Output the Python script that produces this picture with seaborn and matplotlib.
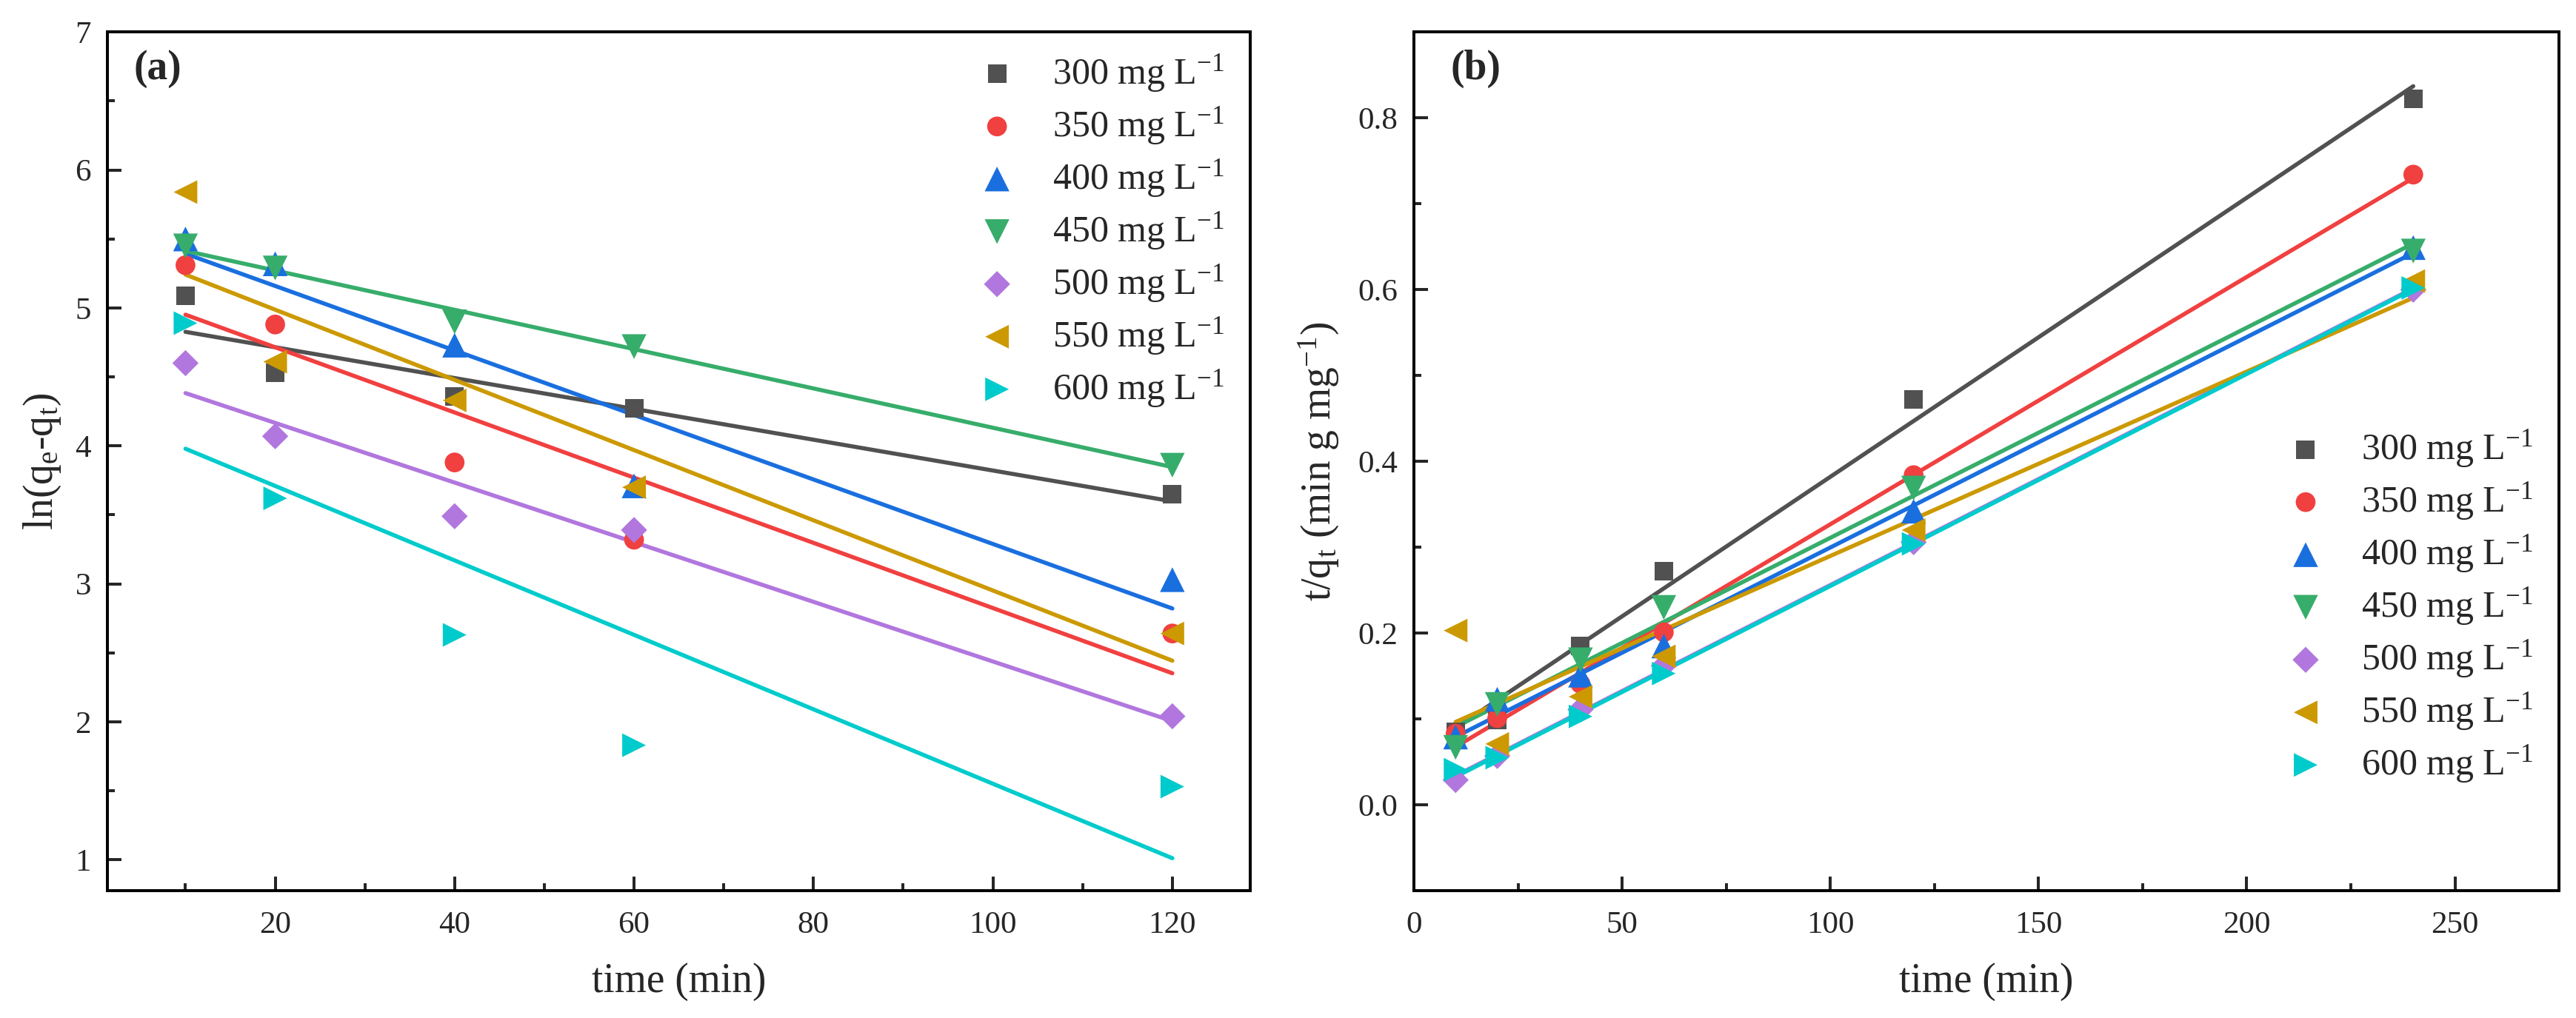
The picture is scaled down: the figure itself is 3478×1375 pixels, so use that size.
import matplotlib
matplotlib.use('Agg')
import matplotlib.pyplot as plt
import seaborn as sns
import numpy as np
from matplotlib.ticker import MultipleLocator

sns.set_style('ticks')
plt.rcParams['font.family'] = ['Liberation Serif', 'DejaVu Serif']
plt.rcParams['mathtext.fontset'] = 'custom'
plt.rcParams['mathtext.rm'] = 'Liberation Serif'
plt.rcParams['mathtext.it'] = 'Liberation Serif:italic'
plt.rcParams['mathtext.bf'] = 'Liberation Serif:bold'

# concentrations, colours and markers (Origin-like palette)
conc = ['300', '350', '400', '450', '500', '550', '600']
colors = ['#515151', '#F14040', '#1A6FDF', '#37AD6B', '#B177DE', '#CC9900', '#00CBCC']
markers = ['s', 'o', '^', 'v', 'D', '<', '>']
msizes = [9.0, 9.6, 12, 12, 9.0, 11.5, 11.5]

# (a) pseudo-first-order: ln(qe-qt) vs time
t_a = [10, 20, 40, 60, 120]
ln_300 = [5.09, 4.53, 4.36, 4.27, 3.65]
ln_350 = [5.31, 4.88, 3.88, 3.32, 2.64]
ln_400 = [5.50, 5.32, 4.73, 3.71, 3.03]
ln_450 = [5.45, 5.29, 4.90, 4.72, 3.86]
ln_500 = [4.60, 4.07, 3.49, 3.39, 2.04]
ln_550 = [5.84, 4.61, 4.33, 3.70, 2.64]
ln_600 = [4.89, 3.62, 2.63, 1.83, 1.53]
data_a = [ln_300, ln_350, ln_400, ln_450, ln_500, ln_550, ln_600]

# (b) pseudo-second-order: t/qt vs time
t_b = [10, 20, 40, 60, 120, 240]
tq_300 = [0.085, 0.099, 0.185, 0.272, 0.472, 0.822]
tq_350 = [0.083, 0.101, 0.141, 0.201, 0.384, 0.734]
tq_400 = [0.079, 0.123, 0.151, 0.185, 0.342, 0.649]
tq_450 = [0.067, 0.117, 0.169, 0.230, 0.369, 0.645]
tq_500 = [0.029, 0.057, 0.111, 0.162, 0.306, 0.600]
tq_550 = [0.203, 0.071, 0.126, 0.173, 0.320, 0.610]
tq_600 = [0.041, 0.055, 0.103, 0.153, 0.304, 0.602]
data_b = [tq_300, tq_350, tq_400, tq_450, tq_500, tq_550, tq_600]

fig = plt.figure(figsize=(17.39, 6.875), dpi=200)
ax1 = fig.add_axes([0.0417, 0.125, 0.4437, 0.8435])
ax2 = fig.add_axes([0.5489, 0.125, 0.4445, 0.8435])


def draw(ax, t, series):
    for c, m, ms, y, lab in zip(colors, markers, msizes, series, conc):
        # linear fit line over the data range
        sns.regplot(x=np.array(t), y=np.array(y), ax=ax, scatter=False, ci=None,
                    truncate=True, color=c, line_kws={'lw': 2.0, 'zorder': 2})
        sns.scatterplot(x=t, y=y, ax=ax, marker=m, color=c, s=ms ** 2,
                        edgecolor='none', linewidth=0, zorder=3,
                        label=lab + r' mg L$^{-1}$')


draw(ax1, t_a, data_a)
draw(ax2, t_b, data_b)

ax1.set_xlim(1.3, 128.7)
ax1.set_ylim(0.775, 7)
ax1.xaxis.set_major_locator(MultipleLocator(20))
ax1.xaxis.set_minor_locator(MultipleLocator(10))
ax1.yaxis.set_major_locator(MultipleLocator(1))
ax1.yaxis.set_minor_locator(MultipleLocator(0.5))
ax1.set_ylabel(r'ln(q$_\mathrm{e}$-q$_\mathrm{t}$)', fontsize=20, labelpad=6)

ax2.set_xlim(0, 275)
ax2.set_ylim(-0.1, 0.9)
ax2.xaxis.set_major_locator(MultipleLocator(50))
ax2.xaxis.set_minor_locator(MultipleLocator(25))
ax2.yaxis.set_major_locator(MultipleLocator(0.2))
ax2.yaxis.set_minor_locator(MultipleLocator(0.1))
ax2.yaxis.set_major_formatter(matplotlib.ticker.FormatStrFormatter('%.1f'))
ax2.set_ylabel(r't/q$_\mathrm{t}$ (min g mg$^{-1}$)', fontsize=20, labelpad=8)

for ax, tag, lx, ly in [(ax1, '(a)', 0.023, 0.957), (ax2, '(b)', 0.032, 0.957)]:
    ax.set_xlabel('time (min)', fontsize=20, labelpad=11)
    ax.tick_params(which='both', direction='in', top=False, right=False,
                   width=1.44, labelsize=15.5)
    ax.tick_params(axis='x', which='both', pad=10)
    ax.tick_params(axis='y', which='both', pad=8)
    ax.tick_params(which='major', length=6.8)
    ax.tick_params(which='minor', length=3.6)
    for sp in ax.spines.values():
        sp.set_linewidth(1.44)
        sp.set_color('black')
    ax.text(lx, ly, tag, transform=ax.transAxes, fontsize=20, fontweight='bold',
            ha='left', va='center')

ax1.legend(loc='center right', bbox_to_anchor=(1.0, 0.7685), frameon=False,
           fontsize=18, handlelength=1.0, handletextpad=1.0, labelspacing=0.3,
           borderaxespad=0.3)
ax2.legend(loc='center right', bbox_to_anchor=(1.0, 0.331), frameon=False,
           fontsize=18, handlelength=1.0, handletextpad=1.0, labelspacing=0.3,
           borderaxespad=0.3)

fig.savefig('out.png', dpi=200)
